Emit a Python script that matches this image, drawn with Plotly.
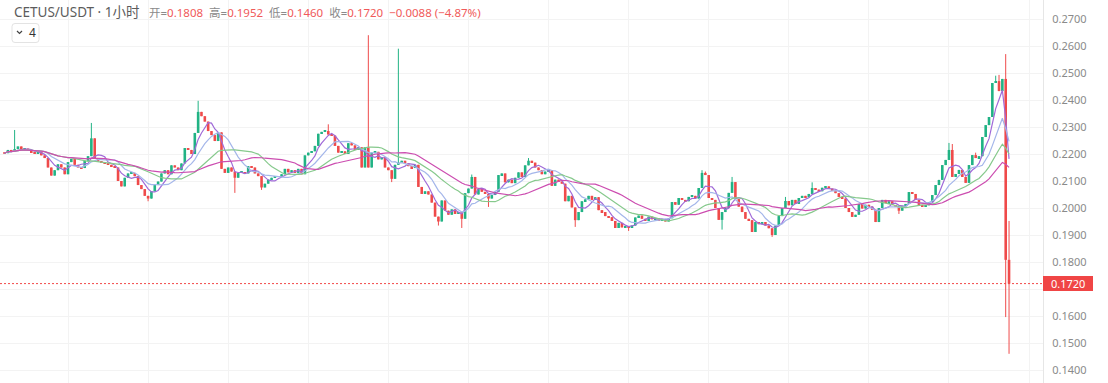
import plotly.graph_objects as go
import pandas as pd

# ---------------- data ----------------
closes = [
    # day 0
    0.2203, 0.2215, 0.2208, 0.2218, 0.2228, 0.2215, 0.2220, 0.2212, 0.2205, 0.2200, 0.2208, 0.2195,
    0.2185, 0.2150, 0.2120, 0.2140, 0.2162, 0.2150, 0.2125, 0.2170, 0.2182, 0.2160, 0.2150,
    # day 1
    0.2148, 0.2175, 0.2192, 0.2258, 0.2185, 0.2172, 0.2168, 0.2165, 0.2160, 0.2155, 0.2150, 0.2100,
    0.2080, 0.2112, 0.2128, 0.2130, 0.2118, 0.2085, 0.2070, 0.2045, 0.2035, 0.2062, 0.2085, 0.2098,
    # day 2
    0.2128, 0.2140, 0.2125, 0.2158, 0.2150, 0.2140, 0.2165, 0.2222, 0.2215, 0.2200, 0.2278, 0.2356,
    0.2340, 0.2320, 0.2285, 0.2270, 0.2248, 0.2280, 0.2145, 0.2130, 0.2150, 0.2135, 0.2112, 0.2130,
    # day 3
    0.2132, 0.2128, 0.2155, 0.2150, 0.2128, 0.2118, 0.2076, 0.2090, 0.2105, 0.2112, 0.2118, 0.2115,
    0.2125, 0.2145, 0.2132, 0.2140, 0.2130, 0.2145, 0.2125, 0.2195, 0.2205, 0.2210, 0.2230, 0.2275, 0.2282,
    # day 4
    0.2285, 0.2272, 0.2268, 0.2230, 0.2205, 0.2210, 0.2200, 0.2240, 0.2232, 0.2215, 0.2225, 0.2150,
    0.2225, 0.2150, 0.2205, 0.2208, 0.2180, 0.2188, 0.2150, 0.2140, 0.2108, 0.2160, 0.2168, 0.2175,
    # day 5
    0.2165, 0.2155, 0.2148, 0.2160, 0.2078, 0.2052, 0.2062, 0.2050, 0.2020, 0.1968, 0.1950, 0.2028,
    0.1990, 0.1975, 0.1995, 0.1978, 0.1985, 0.1960, 0.2055, 0.2072, 0.2115, 0.2050, 0.2070, 0.2060,
    # day 6
    0.2052, 0.2035, 0.2048, 0.2060, 0.2122, 0.2128, 0.2095, 0.2105, 0.2092, 0.2112, 0.2132, 0.2115,
    0.2158, 0.2175, 0.2168, 0.2150, 0.2140, 0.2125, 0.2135, 0.2140, 0.2082, 0.2105, 0.2098, 0.2090,
    # day 7
    0.2025, 0.2045, 0.2002, 0.1955, 0.1985, 0.2025, 0.2032, 0.2045, 0.2030, 0.2040, 0.1992, 0.1985,
    0.1970, 0.1966, 0.1952, 0.1926, 0.1945, 0.1928, 0.1932, 0.1926, 0.1935, 0.1965, 0.1972, 0.1960,
    # day 8
    0.1952, 0.1968, 0.1958, 0.1962, 0.1955, 0.1958, 0.1950, 0.1962, 0.2022, 0.2012, 0.2037, 0.2030,
    0.2025, 0.2041, 0.2045, 0.2035, 0.2074, 0.2130, 0.2122, 0.2037, 0.2030, 0.2000, 0.1956, 0.1985,
    # day 9
    0.2000, 0.2056, 0.2096, 0.2033, 0.2005, 0.1985, 0.1960, 0.1955, 0.1911, 0.1948, 0.1940, 0.1948,
    0.1935, 0.1925, 0.1900, 0.1935, 0.1970, 0.2000, 0.2026, 0.2010, 0.2030, 0.2015, 0.2037, 0.2045,
    # day 10
    0.2040, 0.2052, 0.2074, 0.2068, 0.2062, 0.2075, 0.2080, 0.2072, 0.2065, 0.2055, 0.2041, 0.2035,
    0.2000, 0.1985, 0.1967, 0.1975, 0.2015, 0.1998, 0.2012, 0.2005, 0.1993, 0.1948, 0.2000, 0.2030,
    # day 11
    0.2018, 0.2025, 0.2011, 0.2005, 0.1990, 0.2008, 0.2015, 0.2059, 0.2052, 0.2030, 0.2011, 0.2004,
    0.2010, 0.2022, 0.2048, 0.2085, 0.2104, 0.2159, 0.2178, 0.2215, 0.2115, 0.2126, 0.2141, 0.2115,
    # day 12
    0.2093, 0.2159, 0.2196, 0.2185, 0.2192, 0.2263, 0.2307, 0.2337, 0.2463, 0.2470, 0.2433, 0.2478,
    0.1808, 0.1720,
]
first_open = 0.2205

# visible wicks (candle index -> price)
wick_highs = {3: 0.2289, 26: 0.2315, 58: 0.2397, 97: 0.2310, 109: 0.2640, 118: 0.2590,
              140: 0.2124, 157: 0.2185, 209: 0.2140, 210: 0.2135, 218: 0.2115, 234: 0.2041,
              242: 0.2095, 283: 0.2241, 284: 0.2237, 291: 0.2205, 297: 0.2490, 298: 0.2493,
              300: 0.2570, 301: 0.1952}
wick_lows = {43: 0.2025, 69: 0.2056, 77: 0.2067, 116: 0.2096, 130: 0.1935, 137: 0.1926,
             145: 0.2004, 171: 0.1930, 187: 0.1915, 215: 0.1920, 230: 0.1893, 268: 0.1978,
             300: 0.1596, 301: 0.1460}

ma_periods = [5, 10, 20, 30]
ma_colors = ["#a06ad8", "#a4b6ea", "#86c98c", "#cc4db0"]

y_ticks = [0.14, 0.15, 0.16, 0.17, 0.18, 0.19, 0.20, 0.21, 0.22, 0.23, 0.24, 0.25, 0.26, 0.27]
last_price = 0.1720

# ---------------- build ----------------
opens = [first_open] + closes[:-1]
highs = [max(o, c) for o, c in zip(opens, closes)]
lows = [min(o, c) for o, c in zip(opens, closes)]
for k, v in wick_highs.items():
    highs[k] = v
for k, v in wick_lows.items():
    lows[k] = v
idx = list(range(len(closes)))

GREEN = "#22b385"
RED = "#ef4b4b"
MIN_BODY = 0.00035  # keep doji bodies visible (about 1px)

up = [c >= o for o, c in zip(opens, closes)]
colors = [GREEN if u else RED for u in up]
bases = [min(o, c) for o, c in zip(opens, closes)]
sizes = [max(abs(c - o), MIN_BODY) for o, c in zip(opens, closes)]

fig = go.Figure()

# wicks
for flag, col in [(True, GREEN), (False, RED)]:
    wx, wy = [], []
    for i in idx:
        if up[i] == flag:
            wx += [i, i, None]
            wy += [lows[i], highs[i], None]
    fig.add_trace(go.Scatter(x=wx, y=wy, mode="lines", line=dict(color=col, width=1),
                             showlegend=False, hoverinfo="skip"))

# bodies
fig.add_trace(go.Bar(x=idx, y=sizes, base=bases, width=0.78, marker=dict(color=colors, line=dict(width=0)),
                     showlegend=False, hoverinfo="skip"))

s = pd.Series(closes)
for p, col in zip(ma_periods, ma_colors):
    fig.add_trace(go.Scatter(x=idx, y=s.rolling(p, min_periods=1).mean(), mode="lines",
                             line=dict(color=col, width=1.2), showlegend=False, hoverinfo="skip"))

W_PLOT = 1043.0
H = 383.0
px0, step = 4.6, 3.337
xr = [-px0 / step, (W_PLOT - px0) / step]
y_top = 0.27 + 19 / 2700
y_bot = 0.27 - (H - 19) / 2700


def px(x):
    return x / W_PLOT


def py(y):
    return 1 - y / H


fig.update_layout(
    width=1108, height=383,
    margin=dict(l=0, r=65, t=0, b=0),
    paper_bgcolor="white", plot_bgcolor="white",
    font=dict(family="Noto Sans, Noto Sans CJK SC, sans-serif"),
    xaxis=dict(range=xr, showticklabels=False,
               tickvals=list(range(19, 312, 24)), showgrid=True, gridcolor="#f3f3f3",
               zeroline=False, showline=False, ticks=""),
    yaxis=dict(range=[y_bot, y_top], side="right", tickvals=y_ticks,
               ticktext=["" if abs(v - 0.17) < 1e-9 else f"{v:.4f}" for v in y_ticks],
               tickfont=dict(size=11, color="#8a8a8a"),
               showgrid=True, gridcolor="#f3f3f3", zeroline=False,
               showline=True, linecolor="#e6e6e6", linewidth=1,
               ticks="outside", ticklen=6, tickcolor="rgba(0,0,0,0)"),
)

# last price line + label
fig.add_shape(type="line", xref="paper", yref="y", x0=0, x1=1, y0=last_price, y1=last_price,
              line=dict(color="#f24848", width=1, dash="2px,2px"))
fig.add_shape(type="rect", xref="paper", yref="y", x0=1, x1=1 + 50 / W_PLOT,
              y0=last_price - 7.5 / 2700, y1=last_price + 7.5 / 2700,
              fillcolor="#f04545", line=dict(width=0), layer="above")
fig.add_annotation(xref="paper", yref="y", x=1 + 25 / W_PLOT, y=last_price, text="0.1720",
                   showarrow=False, font=dict(size=11, color="white"), xanchor="center")

# header
fig.add_annotation(xref="paper", yref="paper", x=px(12), y=py(12), xanchor="left", yanchor="middle",
                   text="CETUS/USDT · 1小时", showarrow=False,
                   font=dict(size=13.5, color="#5c5c5c"))
lab = "#8a8a8a"
val = "#f05a5a"
hdr = (f"<span style='color:{lab}'>开=</span><span style='color:{val}'>0.1808</span>  "
       f"<span style='color:{lab}'>高=</span><span style='color:{val}'>0.1952</span>  "
       f"<span style='color:{lab}'>低=</span><span style='color:{val}'>0.1460</span>  "
       f"<span style='color:{lab}'>收=</span><span style='color:{val}'>0.1720</span>  "
       f"<span style='color:{val}'>−0.0088 (−4.87%)</span>")
fig.add_annotation(xref="paper", yref="paper", x=px(147), y=py(12), xanchor="left", yanchor="middle",
                   text=hdr, showarrow=False, font=dict(size=11.5, color=lab))

# indicator toggle box
x0b, x1b, y0b, y1b, r = 12, 39, 23.5, 42.5, 3
path = (f"M {px(x0b + r)} {py(y0b)} L {px(x1b - r)} {py(y0b)} Q {px(x1b)} {py(y0b)} {px(x1b)} {py(y0b + r)} "
        f"L {px(x1b)} {py(y1b - r)} Q {px(x1b)} {py(y1b)} {px(x1b - r)} {py(y1b)} "
        f"L {px(x0b + r)} {py(y1b)} Q {px(x0b)} {py(y1b)} {px(x0b)} {py(y1b - r)} "
        f"L {px(x0b)} {py(y0b + r)} Q {px(x0b)} {py(y0b)} {px(x0b + r)} {py(y0b)} Z")
fig.add_shape(type="path", xref="paper", yref="paper", path=path,
              fillcolor="white", line=dict(color="#e3e3e3", width=1), layer="above")
fig.add_shape(type="path", xref="paper", yref="paper",
              path=f"M {px(17)} {py(31)} L {px(19.5)} {py(33.5)} L {px(22)} {py(31)}",
              line=dict(color="#444", width=1.2), layer="above")
fig.add_annotation(xref="paper", yref="paper", x=px(27), y=py(33), xanchor="left", yanchor="middle",
                   text="4", showarrow=False, font=dict(size=12, color="#333"))

fig.write_html("out.html", config={"displayModeBar": False},
               post_script="document.body.style.margin='0px';")
